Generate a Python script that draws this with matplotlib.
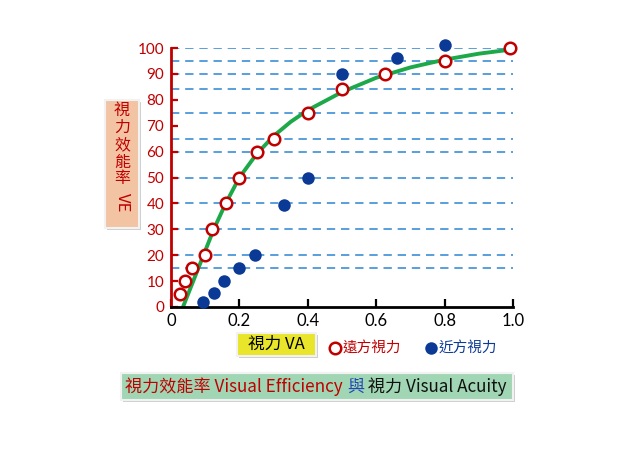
import matplotlib
matplotlib.use("Agg")
import matplotlib.pyplot as plt
from matplotlib.patches import Rectangle

# ---- data ----
far_va = [0.025, 0.04, 0.06, 0.1, 0.12, 0.16, 0.2, 0.25, 0.3, 0.4, 0.5, 0.625, 0.8, 0.99]
far_ve = [5, 10, 15, 20, 30, 40, 50, 60, 65, 75, 84, 90, 95, 100]
near_va = [0.095, 0.125, 0.155, 0.2, 0.245, 0.33, 0.4, 0.5, 0.66, 0.8]
near_ve = [2, 5.5, 10, 15, 20, 39.5, 50, 90, 96, 101]
curve_va = [0.035, 0.065, 0.095, 0.125, 0.16, 0.2, 0.25, 0.3, 0.35, 0.4, 0.5, 0.6, 0.7, 0.8, 0.9, 1.0]
curve_ve = [0, 10, 20, 30, 40, 50, 59, 66, 71.5, 76, 83, 88.5, 92.5, 95.5, 97.8, 99.5]
grid_levels = [15, 20, 30, 40, 50, 60, 65, 75, 84, 90, 95, 100]
x_ticks = [0, 0.2, 0.4, 0.6, 0.8, 1.0]
x_ticklabels = ["0", "0.2", "0.4", "0.6", "0.8", "1.0"]
y_ticks = list(range(0, 101, 10))

CJK = ["Noto Sans CJK TC", "DejaVu Sans"]
DARKRED = "#C00000"
BLUE = "#0B3A96"
W, H = 640, 453

fig = plt.figure(figsize=(6.4, 4.53), dpi=100)
fig.patch.set_facecolor("white")

def fx(px):
    return px / W

def fy(py):
    return 1 - py / H

ax = fig.add_axes([fx(171), fy(307), fx(513) - fx(171), fy(48) - fy(307)])
ax.set_xlim(0, 1.0)
ax.set_ylim(0, 100)

for lv in grid_levels:
    ax.axhline(lv, color="#3D8FD6", lw=1.2, ls=(0, (5, 3.5)), zorder=1)

ax.plot(curve_va, curve_ve, color="#1DA84A", lw=2.8, zorder=2, solid_capstyle="butt")
ax.plot(far_va, far_ve, "o", ms=8.3, mfc="white", mec=DARKRED, mew=1.8, zorder=4, clip_on=False)
ax.plot(near_va, near_ve, "o", ms=9, mfc=BLUE, mec=BLUE, mew=0, zorder=3, clip_on=False)

for s in ["top", "right"]:
    ax.spines[s].set_visible(False)
ax.spines["left"].set_color(DARKRED)
ax.spines["left"].set_linewidth(2)
ax.spines["bottom"].set_color("black")
ax.spines["bottom"].set_linewidth(2)

ax.set_xticks(x_ticks)
ax.set_xticklabels(x_ticklabels, fontsize=12, family=["Lato", "DejaVu Sans"])
ax.set_yticks(y_ticks)
ax.set_yticklabels([str(v) for v in y_ticks], fontsize=11, color=DARKRED,
                   family=["Lato", "DejaVu Sans"])
ax.tick_params(axis="x", direction="in", length=6, width=1.6, color="black", pad=4)
ax.tick_params(axis="y", direction="in", length=5, width=1.6, color=DARKRED, pad=5)
ax.set_facecolor("none")

def box(x0, y0, x1, y1, color, edge="#F2F2F2"):
    # shadow
    fig.patches.append(Rectangle((fx(x0 + 2), fy(y1 + 2)), fx(x1 - x0), fy(y0) - fy(y1),
                                 transform=fig.transFigure, facecolor="#CFCFCF",
                                 edgecolor="none", zorder=0))
    fig.patches.append(Rectangle((fx(x0), fy(y1)), fx(x1 - x0), fy(y0) - fy(y1),
                                 transform=fig.transFigure, facecolor=color,
                                 edgecolor=edge, lw=1.5, zorder=1))

# y label box (vertical)
box(105, 100, 139, 228, "#F3C4A4")
for ch, py in zip("視力效能率", [110, 127, 145, 162, 179]):
    fig.text(fx(122), fy(py), ch, color=DARKRED, fontsize=11.5, family=CJK,
             ha="center", va="center")
fig.text(fx(122), fy(203), "VE", color=DARKRED, fontsize=12, family=CJK,
         ha="center", va="center", rotation=-90)

# x label box
box(237, 333, 316, 356, "#E8E52A")
fig.text(fx(276.5), fy(344.5), "視力 VA", color="black", fontsize=12, family=CJK,
         ha="center", va="center")

# legend
fig.lines.append(plt.Line2D([fx(335)], [fy(348)], marker="o", ms=8.3, mfc="white",
                            mec=DARKRED, mew=1.8, transform=fig.transFigure))
fig.text(fx(343), fy(348), "遠方視力", color=DARKRED, fontsize=10.5, family=CJK,
         ha="left", va="center")
fig.lines.append(plt.Line2D([fx(431)], [fy(348)], marker="o", ms=9, mfc=BLUE,
                            mec=BLUE, mew=0, transform=fig.transFigure))
fig.text(fx(439), fy(348), "近方視力", color=BLUE, fontsize=10.5, family=CJK,
         ha="left", va="center")

# title box
box(121, 373, 513, 400, "#A0D6B4")
pieces = [("視力效能率 Visual Efficiency ", DARKRED), ("與", "#2247B5"),
          (" 視力 Visual Acuity", "#111111")]
fig.canvas.draw()
renderer = fig.canvas.get_renderer()
texts = []
for s, c in pieces:
    t = fig.text(0, fy(387), s, color=c, fontsize=12.3, family=CJK, ha="left", va="center")
    texts.append(t)
widths = [t.get_window_extent(renderer).width for t in texts]
total = sum(widths)
start = 316 - total / 2
for t, w in zip(texts, widths):
    t.set_x(fx(start))
    start += w

fig.savefig("out.png", dpi=100)
